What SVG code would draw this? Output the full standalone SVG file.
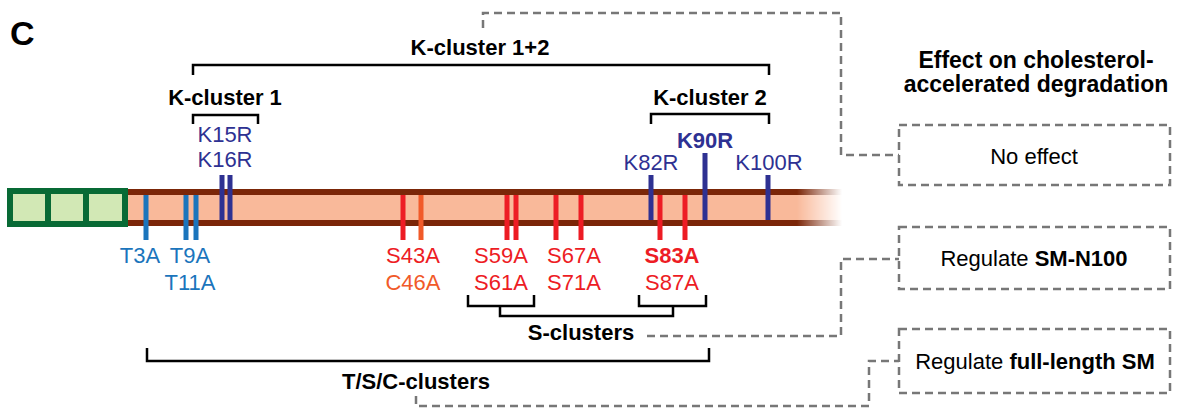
<svg xmlns="http://www.w3.org/2000/svg" width="1177" height="409" viewBox="0 0 1177 409">
  <style>
    text { font-family: "Liberation Sans", Arial, sans-serif; font-size: 22px; }
    .b { font-weight: bold; }
    .mid { text-anchor: middle; }
    .kc { fill: #2E3192; }
    .tc { fill: #1B75BC; }
    .sc { fill: #ED1C24; }
    .cc { fill: #F15A29; }
    .brk { fill: none; stroke: #000; stroke-width: 2.5; }
    .dash { fill: none; stroke: #777; stroke-width: 2.5; stroke-dasharray: 8 5; }
    .box { fill: #fff; stroke: #777; stroke-width: 2.5; stroke-dasharray: 8 5; }
    .kt { fill: #2E3192; }
    .tt { fill: #1B75BC; }
    .st { fill: #ED1C24; }
    .ct { fill: #F15A29; }
  </style>
  <defs>
    <linearGradient id="fadeGrad" gradientUnits="userSpaceOnUse" x1="797" y1="0" x2="842" y2="0">
      <stop offset="0" stop-color="#fff"/>
      <stop offset="1" stop-color="#000"/>
    </linearGradient>
    <mask id="fadeMask" maskUnits="userSpaceOnUse" x="0" y="0" width="1177" height="409">
      <rect x="0" y="0" width="1177" height="409" fill="url(#fadeGrad)"/>
    </mask>
  </defs>

  <rect width="1177" height="409" fill="#fff"/>

  <text x="10" y="45" class="b" style="font-size:34px">C</text>

  <!-- protein bar -->
  <g id="protein">
    <g mask="url(#fadeMask)">
      <rect x="126" y="195" width="720" height="25" fill="#F9B99A"/>
      <rect x="126" y="189" width="720" height="6" fill="#7B2608"/>
      <rect x="126" y="220" width="720" height="6" fill="#7B2608"/>
    </g>
    <rect x="10" y="191" width="115" height="33" fill="#D2E8B5" stroke="#086A35" stroke-width="6"/>
    <rect x="45" y="191" width="6" height="33" fill="#086A35"/>
    <rect x="83" y="191" width="6" height="33" fill="#086A35"/>
  </g>

  <!-- site ticks -->
  <g id="ticks">
    <rect class="tt" x="143.5" y="195" width="5" height="45"/>
    <rect class="tt" x="183.5" y="195" width="5" height="45"/>
    <rect class="tt" x="193.5" y="195" width="5" height="45"/>
    <rect class="kt" x="219.5" y="175" width="5" height="45"/>
    <rect class="kt" x="227.5" y="175" width="5" height="45"/>
    <rect class="st" x="400.5" y="195" width="5" height="45"/>
    <rect class="ct" x="418.5" y="195" width="5" height="45"/>
    <rect class="st" x="504.5" y="195" width="5" height="45"/>
    <rect class="st" x="513.5" y="195" width="5" height="45"/>
    <rect class="st" x="553.5" y="195" width="5" height="45"/>
    <rect class="st" x="578.5" y="195" width="5" height="45"/>
    <rect class="kt" x="648.5" y="175" width="5" height="45"/>
    <rect class="st" x="657.5" y="195" width="5" height="45"/>
    <rect class="st" x="682.5" y="195" width="5" height="45"/>
    <rect class="kt" x="702.5" y="153" width="5" height="67"/>
    <rect class="kt" x="765.5" y="175" width="5" height="45"/>
  </g>

  <!-- site labels -->
  <g id="labels">
    <text class="kc mid" x="225" y="142">K15R</text>
    <text class="kc mid" x="225" y="167">K16R</text>
    <text class="kc mid b" x="705" y="148">K90R</text>
    <text class="kc mid" x="651" y="170">K82R</text>
    <text class="kc mid" x="769" y="170">K100R</text>
    <text class="tc mid" x="140" y="263">T3A</text>
    <text class="tc mid" x="190" y="263">T9A</text>
    <text class="tc mid" x="190" y="290">T11A</text>
    <text class="sc mid" x="413" y="263">S43A</text>
    <text class="cc mid" x="413" y="290">C46A</text>
    <text class="sc mid" x="501" y="263">S59A</text>
    <text class="sc mid" x="501" y="290">S61A</text>
    <text class="sc mid" x="574" y="263">S67A</text>
    <text class="sc mid" x="574" y="290">S71A</text>
    <text class="sc mid b" x="672" y="263">S83A</text>
    <text class="sc mid" x="672" y="290">S87A</text>
  </g>

  <!-- cluster brackets -->
  <g id="k-cluster-12">
    <path class="brk" d="M193,75 V65 H769 V75"/>
    <text class="b mid" x="480" y="55">K-cluster 1+2</text>
  </g>
  <g id="k-cluster-1">
    <path class="brk" d="M193,124 V115 H258 V124"/>
    <text class="b mid" x="225" y="105">K-cluster 1</text>
  </g>
  <g id="k-cluster-2">
    <path class="brk" d="M651,124 V114 H769 V124"/>
    <text class="b mid" x="710" y="105">K-cluster 2</text>
  </g>
  <g id="s-clusters">
    <path class="brk" d="M468,295 V306 H534 V295 M639,295 V306 H706 V295 M500,306 V316 H673 V306"/>
    <text class="b mid" x="581" y="340">S-clusters</text>
  </g>
  <g id="tsc-clusters">
    <path class="brk" d="M147,348 V361 H709 V348"/>
    <text class="b mid" x="416" y="389">T/S/C-clusters</text>
  </g>

  <!-- effect column -->
  <g id="effect-header">
    <text class="b mid" x="1036" y="68" style="font-size:23px">Effect on cholesterol-</text>
    <text class="b mid" x="1036" y="92" style="font-size:23px">accelerated degradation</text>
  </g>
  <g id="no-effect">
    <rect class="box" x="899" y="125" width="271" height="60"/>
    <text class="mid" x="1034" y="164">No effect</text>
  </g>
  <g id="regulate-n100">
    <rect class="box" x="899" y="227" width="271" height="62"/>
    <text class="mid" x="1034" y="266">Regulate <tspan class="b">SM-N100</tspan></text>
  </g>
  <g id="regulate-full">
    <rect class="box" x="899" y="329" width="271" height="64"/>
    <text class="mid" x="1035" y="369">Regulate <tspan class="b">full-length SM</tspan></text>
  </g>

  <!-- dashed connectors -->
  <g id="connectors">
    <path class="dash" d="M483,28 V13 H841 V155 H899"/>
    <path class="dash" d="M647,336 H841 V259 H899"/>
    <path class="dash" d="M416,396 V406 H869 V361 H899"/>
  </g>
</svg>
